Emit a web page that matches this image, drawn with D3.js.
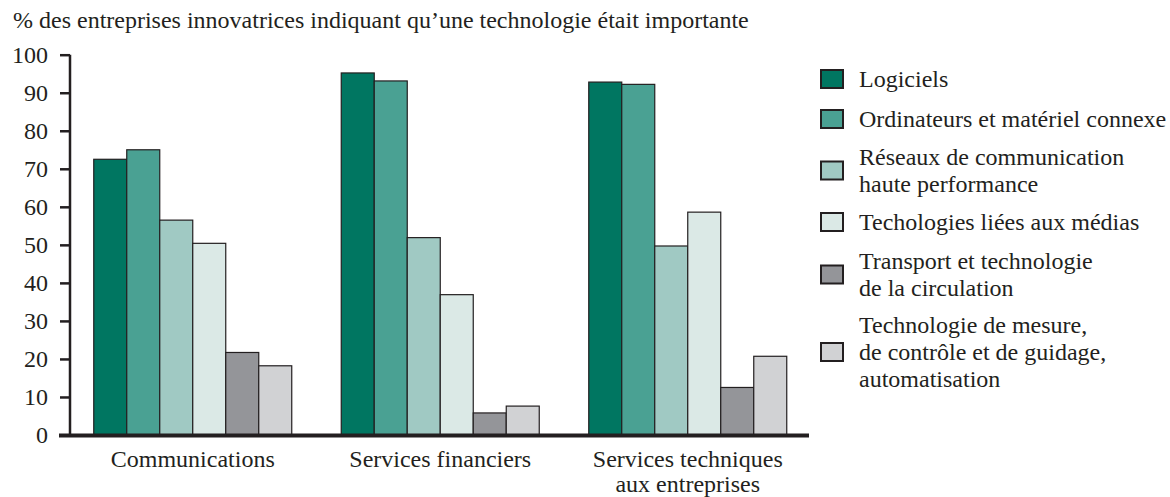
<!DOCTYPE html>
<html>
<head>
<meta charset="utf-8">
<script src="https://cdnjs.cloudflare.com/ajax/libs/d3/7.8.5/d3.min.js"></script>
<style>
body { margin: 0; background: #fff; }
</style>
</head>
<body>
<svg width="1170" height="497"></svg>
<script>
// data
var sectors = [["Communications"], ["Services financiers"], ["Services techniques", "aux entreprises"]];
var techs = [
  ["Logiciels"],
  ["Ordinateurs et matériel connexe"],
  ["Réseaux de communication", "haute performance"],
  ["Techologies liées aux médias"],
  ["Transport et technologie", "de la circulation"],
  ["Technologie de mesure,", "de contrôle et de guidage,", "automatisation"]
];
var colors = ["#007661", "#4aa193", "#a0c9c3", "#dbe9e6", "#949599", "#d1d2d4"];
var values = [
  [72.5, 75, 56.5, 50.4, 21.7, 18.2],
  [95.2, 93.1, 51.9, 36.9, 5.8, 7.6],
  [92.8, 92.2, 49.7, 58.6, 12.5, 20.7]
];
var yTicks = [0, 10, 20, 30, 40, 50, 60, 70, 80, 90, 100];
var title = "% des entreprises innovatrices indiquant qu\u2019une technologie était importante";

var FONT = "'Liberation Serif', 'Times New Roman', serif";
var INK = "#231f20";

var svg = d3.select("svg");

var x0 = d3.scaleBand()
  .domain(d3.range(sectors.length))
  .range([69, 811.5])
  .paddingInner(0.2)
  .paddingOuter(0.1);
var x1 = d3.scaleBand()
  .domain(d3.range(techs.length))
  .range([0, x0.bandwidth()]);
var y = d3.scaleLinear()
  .domain([0, 100])
  .range([435, 54.7]);

// title
svg.append("text")
  .attr("x", 13)
  .attr("y", 28)
  .style("font-family", FONT)
  .style("font-size", "24px")
  .style("fill", INK)
  .text(title);

// bars
var groups = svg.selectAll("g.grp")
  .data(values)
  .enter().append("g")
  .attr("class", "grp")
  .attr("transform", function (d, i) { return "translate(" + x0(i) + ",0)"; });

groups.selectAll("rect")
  .data(function (d) { return d; })
  .enter().append("rect")
  .attr("x", function (d, i) { return x1(i); })
  .attr("y", function (d) { return y(d); })
  .attr("width", x1.bandwidth())
  .attr("height", function (d) { return y(0) - y(d); })
  .attr("fill", function (d, i) { return colors[i]; })
  .attr("stroke", INK)
  .attr("stroke-width", 1.2);

// y axis
var yAxis = d3.axisLeft(y)
  .tickValues(yTicks)
  .tickSize(10)
  .tickPadding(12);
var ga = svg.append("g")
  .attr("transform", "translate(70,0)")
  .call(yAxis);
ga.select(".domain").remove();
ga.selectAll(".tick line").attr("stroke", INK).attr("stroke-width", 2.5);
ga.selectAll(".tick text")
  .style("font-family", FONT)
  .style("font-size", "24px")
  .style("fill", INK);
svg.append("line")
  .attr("x1", 70).attr("x2", 70)
  .attr("y1", y(100)).attr("y2", y(0))
  .attr("stroke", INK)
  .attr("stroke-width", 2.5);

// baseline
svg.append("line")
  .attr("x1", 59).attr("x2", 809)
  .attr("y1", y(0) + 0.5).attr("y2", y(0) + 0.5)
  .attr("stroke", INK)
  .attr("stroke-width", 4);

// category labels
sectors.forEach(function (lines, i) {
  var cx = x0(i) + x0.bandwidth() / 2;
  var t = svg.append("text")
    .attr("x", cx)
    .attr("y", 467)
    .attr("text-anchor", "middle")
    .style("font-family", FONT)
    .style("font-size", "24px")
    .style("fill", INK);
  lines.forEach(function (l, j) {
    t.append("tspan")
      .attr("x", cx)
      .attr("dy", j === 0 ? 0 : 25)
      .text(l);
  });
});

// legend
var firstBase = [87, 127, 165, 230, 269, 333];
var lineH = 27;
techs.forEach(function (lines, i) {
  var top = firstBase[i];
  var mid = top + (lines.length - 1) * lineH / 2 - 8;
  svg.append("rect")
    .attr("x", 821)
    .attr("y", mid - 9)
    .attr("width", 22)
    .attr("height", 18)
    .attr("fill", colors[i])
    .attr("stroke", INK)
    .attr("stroke-width", 2);
  var t = svg.append("text")
    .attr("x", 859)
    .attr("y", top)
    .style("font-family", FONT)
    .style("font-size", "24px")
    .style("fill", INK);
  lines.forEach(function (l, j) {
    t.append("tspan")
      .attr("x", 859)
      .attr("dy", j === 0 ? 0 : lineH)
      .text(l);
  });
});
</script>
</body>
</html>
